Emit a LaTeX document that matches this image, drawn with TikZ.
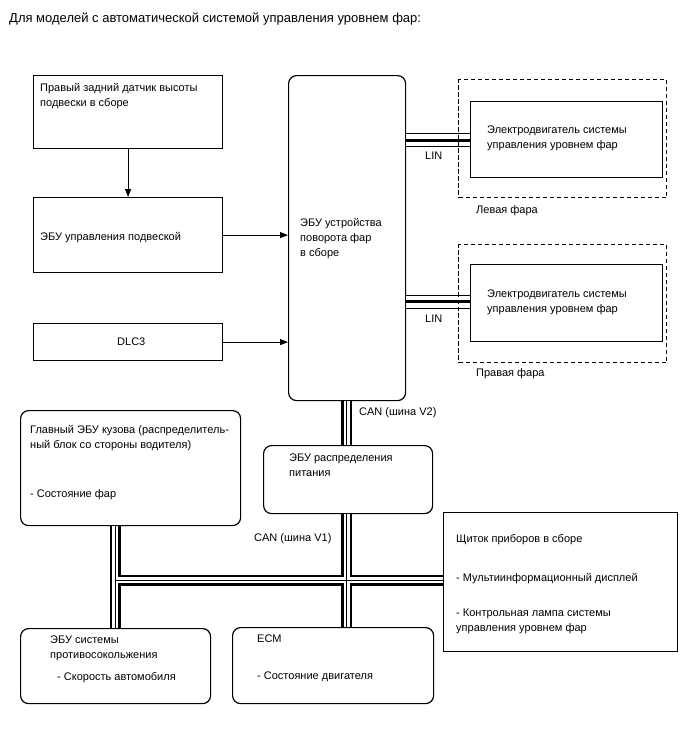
\documentclass[tikz,border=0pt]{standalone}
\usepackage{fontspec}
\setmainfont{Liberation Sans}
\usetikzlibrary{arrows.meta}
\begin{document}
\begin{tikzpicture}[x=1pt,y=-1pt,
  box/.style={draw=black,line width=1.2pt,anchor=north west,inner sep=0pt},
  rbox/.style={box,rounded corners=8pt},
  dbox/.style={draw=black,line width=1pt,dash pattern=on 4pt off 3pt,anchor=north west,inner sep=0pt},
  txt/.style={anchor=base west,inner sep=0pt,align=left,font=\fontsize{11}{15}\selectfont},
  arr/.style={line width=1.2pt,-{Triangle[length=8pt,width=6pt]}},
]
\useasboundingbox (0,0) rectangle (688,755);
\fill[white] (0,0) rectangle (688,755);

\node[txt,font=\fontsize{13}{15}\selectfont] (title) at (9,22) {Для моделей с автоматической системой управления уровнем фар:};

% left column (base = last line)
\node[box,minimum width=189pt,minimum height=73pt] (sensor) at (33,75) {};
\node[txt] (sensortxt) at (40,106) {Правый задний датчик высоты\\подвески в сборе};
\node[box,minimum width=189pt,minimum height=75pt] (susp) at (33,197) {};
\node[txt] (susptxt) at (40,240) {ЭБУ управления подвеской};
\node[box,minimum width=189pt,minimum height=37pt] (dlc) at (33,323) {};
\node[txt] (dlctxt) at (117,345) {DLC3};

% main ECU
\node[rbox,minimum width=117pt,minimum height=325pt] (ecu) at (288,75) {};
\node[txt] (ecutxt) at (300,256) {ЭБУ устройства\\поворота фар\\в сборе};

% headlights
\node[dbox,minimum width=208pt,minimum height=118pt] (lhl) at (458,79) {};
\node[box,minimum width=192pt,minimum height=76pt] (lmot) at (470,101) {};
\node[txt] (lmottxt) at (487,148) {Электродвигатель системы\\управления уровнем фар};
\node[txt] (lhltxt) at (476,213) {Левая фара};
\node[dbox,minimum width=208pt,minimum height=118pt] (rhl) at (458,244) {};
\node[box,minimum width=192pt,minimum height=77pt] (rmot) at (470,264) {};
\node[txt] (rmottxt) at (487,312) {Электродвигатель системы\\управления уровнем фар};
\node[txt] (rhltxt) at (476,376) {Правая фара};

% lower boxes
\node[rbox,minimum width=220pt,minimum height=115pt] (body) at (20,410) {};
\node[txt] (bodytxt) at (30,448) {Главный ЭБУ кузова (распределитель-\\ный блок со стороны водителя)};
\node[txt] (bodytxt2) at (30,497) {- Состояние фар};
\node[rbox,minimum width=169pt,minimum height=68pt] (pwr) at (263,445) {};
\node[txt] (pwrtxt) at (289,476) {ЭБУ распределения\\питания};
\node[box,minimum width=234pt,minimum height=139pt] (meter) at (443,512) {};
\node[txt] (metertxt1) at (456,542) {Щиток приборов в сборе};
\node[txt] (metertxt2) at (456,581) {- Мультиинформационный дисплей};
\node[txt] (metertxt3) at (456,631) {- Контрольная лампа системы\\управления уровнем фар};
\node[rbox,minimum width=190pt,minimum height=75pt] (abs) at (20,628) {};
\node[txt] (abstxt) at (50,658) {ЭБУ системы\\противосокольжения};
\node[txt] (abstxt2) at (57,680) {- Скорость автомобиля};
\node[rbox,minimum width=201pt,minimum height=76pt] (ecm) at (232,627) {};
\node[txt] (ecmtxt) at (257,642) {ECM};
\node[txt] (ecmtxt2) at (257,679) {- Состояние двигателя};

% arrows
\draw[arr] (sensor.south) -- (susp.north);
\draw[arr] (susp.east) -- (susp.east -| ecu.west);
\draw[arr] (dlc.east) -- (dlc.east -| ecu.west);

% coordinates for buses
\coordinate (cx) at (346.5,0);
\coordinate (lx) at (115,0);
\coordinate (hy) at (0,580);
\coordinate (llin) at (0,140);
\coordinate (rlin) at (0,301.5);

% LIN buses
\foreach \w/\c in {14pt/black,12pt/white,3pt/black}{
  \draw[line width=\w,\c] (ecu.east |- llin) -- (lmot.west |- llin);
  \draw[line width=\w,\c] (ecu.east |- rlin) -- (rmot.west |- rlin);
}
% redraw dashed frames over LIN
\draw[line width=1pt,dash pattern=on 4pt off 3pt] (lhl.north west) -- (lhl.south west);
\draw[line width=1pt,dash pattern=on 4pt off 3pt] (rhl.north west) -- (rhl.south west);
\node[txt] (lin1) at (425,159) {LIN};
\node[txt] (lin2) at (425,322) {LIN};

% CAN buses
\foreach \w/\c in {11pt/black,6pt/white,1pt/black}{
  \draw[line width=\w,\c] (ecu.south -| cx) -- (pwr.north -| cx);
  \draw[line width=\w,\c] (pwr.south -| cx) -- (ecm.north -| cx);
  \draw[line width=\w,\c] (body.south -| lx) -- (abs.north -| lx);
  \draw[line width=\w,\c] (lx |- hy) -- (meter.west |- hy);
}
\node[txt] (v2) at (359,415) {CAN (шина V2)};
\node[txt] (v1) at (254,541) {CAN (шина V1)};
\end{tikzpicture}
\end{document}
